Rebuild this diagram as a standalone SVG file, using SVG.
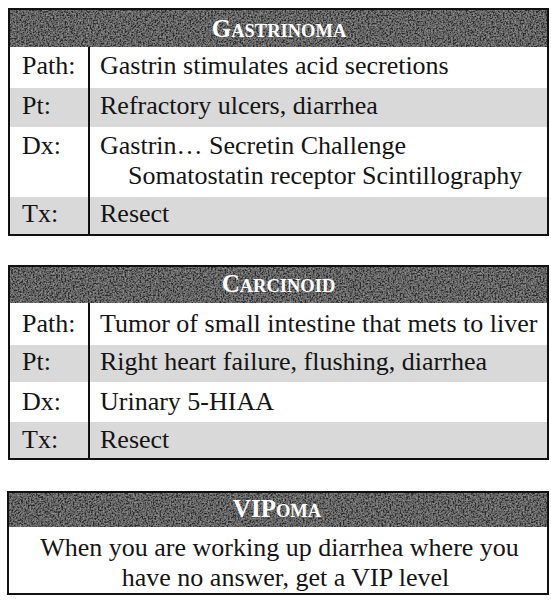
<svg xmlns="http://www.w3.org/2000/svg" width="551" height="608" viewBox="0 0 551 608">
<defs>
<filter id="grain" x="0" y="0" width="100%" height="100%">
<feTurbulence type="fractalNoise" baseFrequency="0.6" numOctaves="2" seed="4" result="n"/>
<feColorMatrix in="n" type="matrix" values="0 0 0 0 1  0 0 0 0 1  0 0 0 0 1  0.55 0 0 0 -0.17" result="w"/>
<feComposite in="w" in2="SourceGraphic" operator="in" result="wi"/>
<feMerge><feMergeNode in="SourceGraphic"/><feMergeNode in="wi"/></feMerge>
</filter>
</defs>
<style>
.bg{fill:#ffffff}
.hdr{fill:#2a2a2a}
.shade{fill:#d9d9d9}
.frame{fill:none;stroke:#111;stroke-width:2}
.div{stroke:#111;stroke-width:2}
.t{font-family:"Liberation Serif","Times New Roman",serif;font-size:26px;fill:#141414}
.h{font-family:"Liberation Serif","Times New Roman",serif;font-weight:bold;fill:#ffffff;text-anchor:middle}
.big{font-size:25px}
.sc{font-size:18.5px}
.c{text-anchor:middle}
</style>
<rect width="551" height="608" fill="#ffffff"/>

<g id="gastrinoma">
<rect class="bg" x="9" y="9" width="539" height="226"/>
<rect class="hdr" x="9" y="9" width="539" height="38" filter="url(#grain)"/>
<rect class="shade" x="9" y="88" width="539" height="39"/>
<rect class="shade" x="9" y="197" width="539" height="38"/>
<line class="div" x1="89" y1="47" x2="89" y2="235"/>
<rect class="frame" x="9" y="9" width="539" height="226"/>
<text class="h" x="279" y="37"><tspan class="big">G</tspan><tspan class="sc">ASTRINOMA</tspan></text>
<text class="t" x="22" y="74">Path:</text>
<text class="t" x="100" y="74">Gastrin stimulates acid secretions</text>
<text class="t" x="22" y="114">Pt:</text>
<text class="t" x="100" y="114">Refractory ulcers, diarrhea</text>
<text class="t" x="22" y="154">Dx:</text>
<text class="t" x="100" y="154">Gastrin… Secretin Challenge</text>
<text class="t" x="128" y="184">Somatostatin receptor Scintillography</text>
<text class="t" x="22" y="222">Tx:</text>
<text class="t" x="100" y="222">Resect</text>
</g>

<g id="carcinoid">
<rect class="bg" x="9" y="266" width="539" height="193"/>
<rect class="hdr" x="9" y="266" width="539" height="37" filter="url(#grain)"/>
<rect class="shade" x="9" y="345" width="539" height="37"/>
<rect class="shade" x="9" y="422" width="539" height="37"/>
<line class="div" x1="89" y1="303" x2="89" y2="459"/>
<rect class="frame" x="9" y="266" width="539" height="193"/>
<text class="h" x="278.5" y="292"><tspan class="big">C</tspan><tspan class="sc">ARCINOID</tspan></text>
<text class="t" x="22" y="332">Path:</text>
<text class="t" x="100" y="332">Tumor of small intestine that mets to liver</text>
<text class="t" x="22" y="370">Pt:</text>
<text class="t" x="100" y="370">Right heart failure, flushing, diarrhea</text>
<text class="t" x="22" y="410">Dx:</text>
<text class="t" x="100" y="410">Urinary 5-HIAA</text>
<text class="t" x="22" y="448">Tx:</text>
<text class="t" x="100" y="448">Resect</text>
</g>

<g id="vipoma">
<rect class="bg" x="8" y="492" width="540" height="102"/>
<rect class="hdr" x="8" y="492" width="540" height="35" filter="url(#grain)"/>
<rect class="frame" x="8" y="492" width="540" height="102"/>
<text class="h" x="277" y="517"><tspan class="big">VIP</tspan><tspan class="sc">OMA</tspan></text>
<text class="t c" x="279.5" y="556">When you are working up diarrhea where you</text>
<text class="t c" x="285.5" y="586">have no answer, get a VIP level</text>
</g>
</svg>
